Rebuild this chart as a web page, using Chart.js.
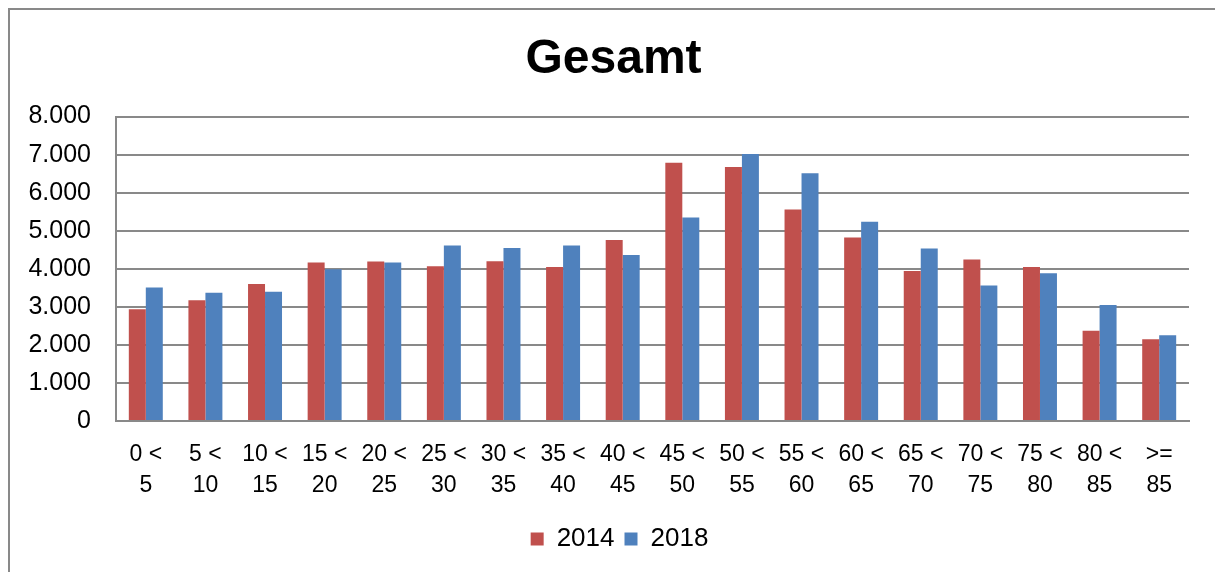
<!DOCTYPE html>
<html>
<head>
<meta charset="utf-8">
<script src="https://cdn.jsdelivr.net/npm/chart.js@4"></script>
<style>
  html, body { margin: 0; padding: 0; background: #fff; }
  #wrap { width: 1215px; height: 572px; }
</style>
</head>
<body>
<div id="wrap"><canvas id="myChart" width="1215" height="572"></canvas></div>
<script>
// age groups, two lines per label
const categories = [
  ['0 <', '5'], ['5 <', '10'], ['10 <', '15'], ['15 <', '20'], ['20 <', '25'],
  ['25 <', '30'], ['30 <', '35'], ['35 <', '40'], ['40 <', '45'], ['45 <', '50'],
  ['50 <', '55'], ['55 <', '60'], ['60 <', '65'], ['65 <', '70'], ['70 <', '75'],
  ['75 <', '80'], ['80 <', '85'], ['>=', '85']
];
const values2014 = [2940, 3175, 3600, 4165, 4195, 4070, 4200, 4050, 4755, 6790, 6675, 5560, 4825, 3940, 4245, 4050, 2370, 2150];
const values2018 = [3510, 3370, 3400, 3990, 4165, 4615, 4545, 4615, 4360, 5350, 7020, 6510, 5235, 4535, 3560, 3885, 3050, 2255];
const seriesNames = ['2014', '2018'];
const yMax = 8000;
const yStep = 1000;

const gridGray = '#898989';
const fontFamily = '"Liberation Sans", Arial, sans-serif';

// the outer frame (only top and left edge are visible in the picture)
const framePlugin = {
  id: 'frame',
  beforeDraw(chart) {
    const c = chart.ctx;
    c.save();
    c.fillStyle = '#fff';
    c.fillRect(0, 0, chart.width, chart.height);
    c.strokeStyle = gridGray;
    c.lineWidth = 2;
    c.beginPath();
    c.moveTo(9, chart.height);
    c.lineTo(9, 9);
    c.lineTo(chart.width, 9);
    c.stroke();
    c.restore();
  }
};

// title and legend sit a bit right of the canvas middle in the original
const shiftPlugin = {
  id: 'shift',
  afterLayout(chart) {
    if (chart.titleBlock) {
      chart.titleBlock.left += 14;
      chart.titleBlock.right += 14;
    }
    if (chart.legend) {
      chart.legend.left += 20;
      chart.legend.right += 20;
      chart.legend.adjustHitBoxes();
    }
  }
};

// 8000 -> "8.000"
const fmt = (v) => v === 0 ? '0' : Math.floor(v / 1000) + '.' + String(v % 1000).padStart(3, '0');

const config = {
  type: 'bar',
  data: {
    labels: categories,
    datasets: [{
      label: seriesNames[0],
      data: values2014,
      backgroundColor: '#C0504D',
      borderWidth: 0
    }, {
      label: seriesNames[1],
      data: values2018,
      backgroundColor: '#4F81BD',
      borderWidth: 0
    }]
  },
  options: {
    responsive: false,
    animation: false,
    events: [],
    barPercentage: 1,
    categoryPercentage: 0.57,
    layout: {
      padding: { left: 10, right: 26, top: 0, bottom: 10 }
    },
    plugins: {
      title: {
        display: true,
        text: 'Gesamt',
        color: '#000',
        font: { family: fontFamily, size: 48, weight: 'bold', lineHeight: 1.2 },
        padding: { top: 31, bottom: 28 }
      },
      legend: {
        position: 'bottom',
        labels: {
          color: '#000',
          font: { family: fontFamily, size: 26 },
          boxWidth: 13,
          boxHeight: 13,
          padding: 10
        }
      },
      tooltip: { enabled: false }
    },
    scales: {
      x: {
        grid: { display: false, drawTicks: false },
        border: { display: true, color: gridGray, width: 2 },
        ticks: {
          color: '#000',
          font: { family: fontFamily, size: 23, lineHeight: 1.35 },
          padding: 18,
          maxRotation: 0,
          autoSkip: false
        },
        afterFit(scale) { scale.height = 95; }
      },
      y: {
        min: 0,
        max: yMax,
        grid: { color: gridGray, lineWidth: 2, drawTicks: false },
        border: { display: true, color: gridGray, width: 2 },
        ticks: {
          stepSize: yStep,
          color: '#000',
          font: { family: fontFamily, size: 25 },
          padding: 25,
          callback: (v) => fmt(v)
        },
        afterFit(scale) { scale.width = 106; }
      }
    }
  },
  plugins: [framePlugin, shiftPlugin]
};

const myChart = new Chart(document.getElementById('myChart'), config);
</script>
</body>
</html>
